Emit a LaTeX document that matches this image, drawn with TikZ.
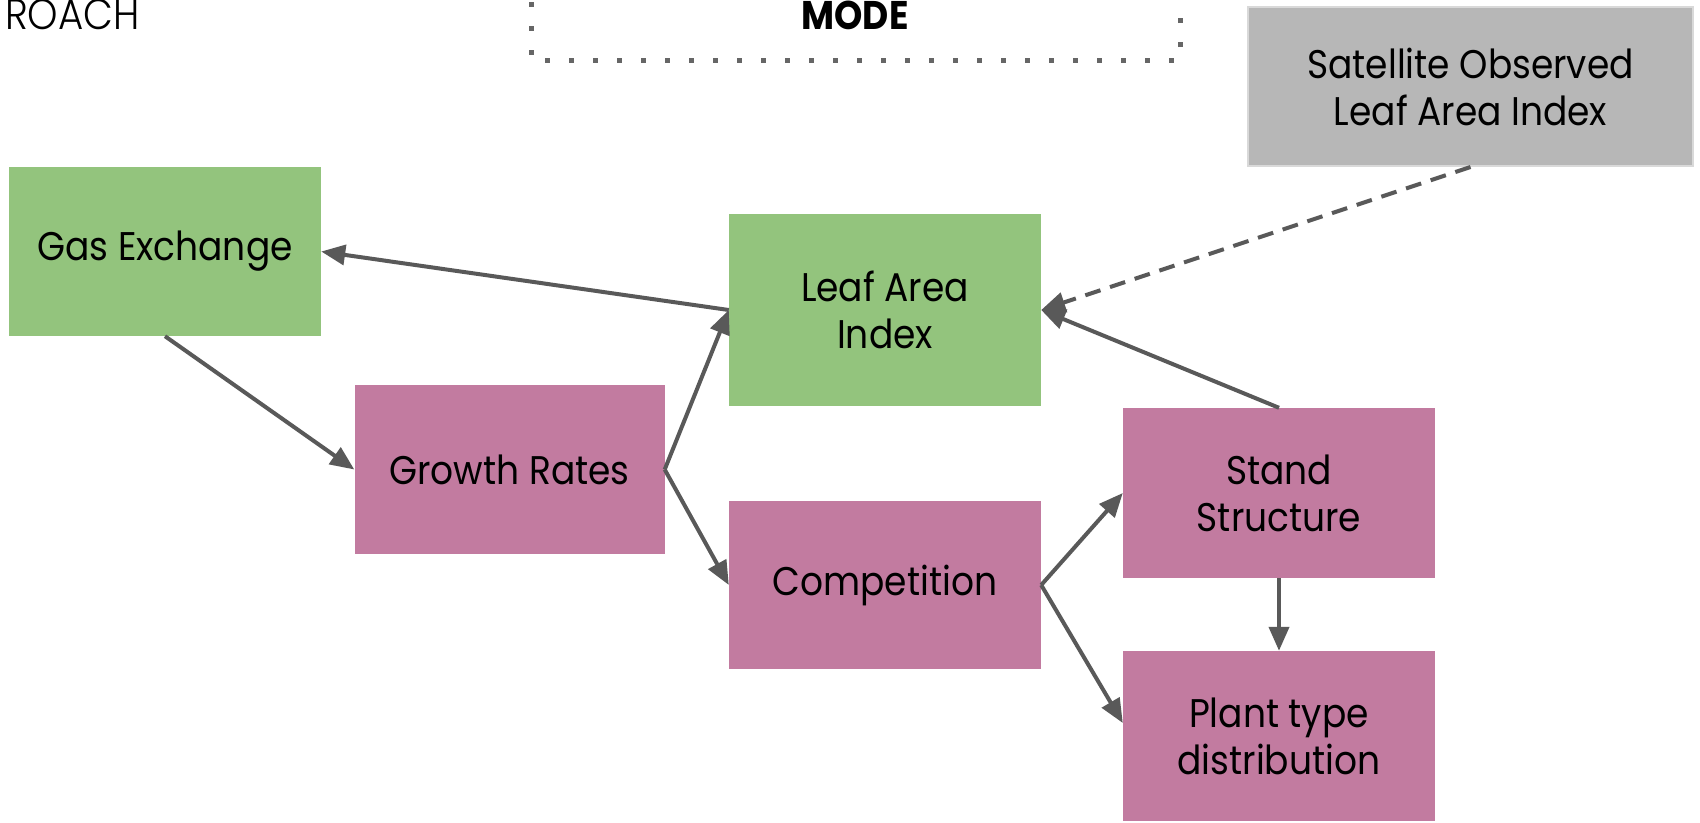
\documentclass[tikz,border=0pt]{standalone}
\usepackage{fontspec}
\setmainfont{Poppins}[FakeStretch=0.9]
\newfontfamily\lightfont{Poppins Light}[FakeStretch=0.9]
\usetikzlibrary{arrows.meta}
\definecolor{leafgreen}{HTML}{93C47D}
\definecolor{mauve}{HTML}{C27BA0}
\definecolor{satgray}{HTML}{B7B7B7}
\definecolor{satedge}{HTML}{D9D9D9}
\definecolor{linkgray}{HTML}{595959}
\definecolor{dotgray}{HTML}{666666}
\tikzset{
  box/.style={rectangle, inner sep=0pt, align=center, text=black,
    font=\fontsize{40}{47}\selectfont},
  greenbox/.style={box, fill=leafgreen, minimum width=312pt},
  pinkbox/.style={box, fill=mauve, minimum width=312pt},
  satbox/.style={box, fill=satgray, draw=satedge, line width=2pt},
  link/.style={draw=linkgray, line width=4pt,
    -{Triangle[length=24pt,width=20pt]}},
  dlink/.style={link, dash pattern=on 16pt off 10pt},
}
\begin{document}
\begin{tikzpicture}[x=1pt, y=-1pt]
\useasboundingbox (0,0) rectangle (1700,822);

% header fragments
\node[anchor=base east, inner sep=0pt, font=\lightfont\fontsize{43}{47}\selectfont]
  (approach) at (140,29) {ROACH};
\draw[dotgray, line width=5pt, dash pattern=on 5pt off 19pt]
  (531,-70) -- (531,60) -- (1180,60) -- (1180,-70);
\node[anchor=base, inner sep=0pt, font=\bfseries\fontsize{40}{47}\selectfont]
  (mode) at (855,29) {MODE};

% boxes
\node[greenbox, minimum height=169pt] (gas)   at (165,251.5) {Gas Exchange};
\node[greenbox, minimum height=192pt] (lai)   at (885,310)   {Leaf Area\\Index};
\node[pinkbox,  minimum height=169pt, minimum width=310pt] (gr) at (509.5,469.5) {Growth Rates};
\node[pinkbox,  minimum height=168pt] (comp)  at (885,585)   {Competition};
\node[pinkbox,  minimum height=170pt] (stand) at (1279,493)  {Stand\\Structure};
\node[pinkbox,  minimum height=170pt] (plant) at (1279,736)  {Plant type\\distribution};
\node[satbox, minimum width=445pt, minimum height=159pt] (sat) at (1470.5,86.5)
  {Satellite Observed\\Leaf Area Index};

% connectors
\draw[link] (lai.west) -- (gas.east);
\draw[link] (gas.south) -- (gr.west);
\draw[link] (gr.east) -- (lai.west);
\draw[link] (gr.east) -- (comp.west);
\draw[link] (comp.east) -- (stand.west);
\draw[link] (comp.east) -- ([yshift=13pt]plant.west);
\draw[link] (stand.north) -- (lai.east);
\draw[link] (stand.south) -- (plant.north);
\draw[dlink] (sat.south) -- (lai.east);
\end{tikzpicture}
\end{document}
